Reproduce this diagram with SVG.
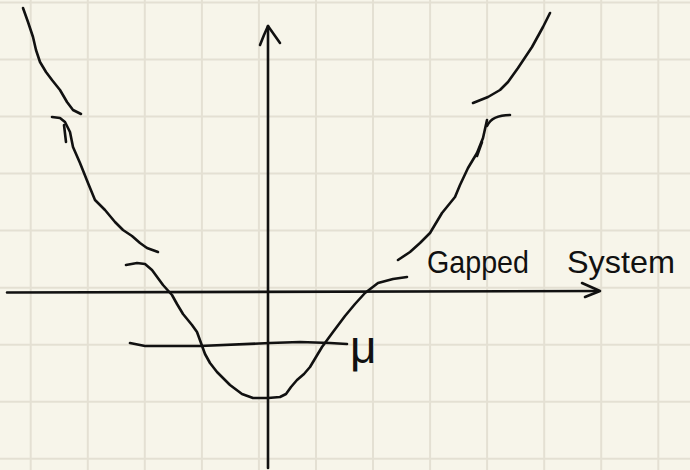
<svg xmlns="http://www.w3.org/2000/svg" width="690" height="470" viewBox="0 0 690 470">
<defs>
<style>
.grid line{stroke:#e4e0d3;stroke-width:2}
.ink{fill:none;stroke:#111;stroke-width:2.6;stroke-linecap:round;stroke-linejoin:round}
.lbl{font-family:"Liberation Sans",Arial,sans-serif;fill:#111}
</style>
</defs>
<rect width="690" height="470" fill="#f7f5ea"/>
<g class="grid">
<line x1="30.7" y1="0" x2="30.7" y2="470"/><line x1="87.8" y1="0" x2="87.8" y2="470"/><line x1="144.8" y1="0" x2="144.8" y2="470"/><line x1="201.9" y1="0" x2="201.9" y2="470"/><line x1="258.9" y1="0" x2="258.9" y2="470"/><line x1="316" y1="0" x2="316" y2="470"/><line x1="373" y1="0" x2="373" y2="470"/><line x1="430.1" y1="0" x2="430.1" y2="470"/><line x1="487.1" y1="0" x2="487.1" y2="470"/><line x1="544.2" y1="0" x2="544.2" y2="470"/><line x1="601.2" y1="0" x2="601.2" y2="470"/><line x1="658.3" y1="0" x2="658.3" y2="470"/>
<line x1="0" y1="2.5" x2="690" y2="2.5"/><line x1="0" y1="59.5" x2="690" y2="59.5"/><line x1="0" y1="116.5" x2="690" y2="116.5"/><line x1="0" y1="173.5" x2="690" y2="173.5"/><line x1="0" y1="230.5" x2="690" y2="230.5"/><line x1="0" y1="287.8" x2="690" y2="287.8"/><line x1="0" y1="344.8" x2="690" y2="344.8"/><line x1="0" y1="401.8" x2="690" y2="401.8"/><line x1="0" y1="458.8" x2="690" y2="458.8"/>
</g>
<g id="axes" class="ink">
<path d="M268,468 L268,26"/>
<path d="M260,45 L264,35 L268,26 L280,43"/>
<path d="M7,292.5 L598,291"/>
<path d="M582,283 L600,291 L585,297"/>
</g>
<g id="band-curves" class="ink">
<path d="M23,8 L28,22 L33,37 L36,50 L40,62 L46,72 L52,80 L60,90 L67,102 L73,110 L81,114"/>
<path d="M52,117 L60,118 L65,122 L70,132 L73,147 L80,163 L88,183 L95,200 L105,210 L115,222 L123,230 L132,236 L140,243 L147,248 L158,252"/>
<path d="M64,125 L66,142"/>
<path d="M126,265 L137,263 L145,264 L152,270 L163,285 L172,295 L177,304 L183,314 L192,325 L197,332 L201,343 L205,354 L210,363 L217,372 L230,385 L242,394 L253,398 L268,398 L280,397 L286,394 L291,387 L297,380 L304,374 L310,367 L316,357 L322,347 L333,332 L345,316 L355,304 L365,293 L378,283 L393,279 L407,277"/>
<path d="M398,260 L410,252 L420,243 L430,233 L442,213 L455,197 L460,185 L468,168 L477,153 L483,138 L487,120"/>
<path d="M477,156 L482,142"/>
<path d="M487,126 Q492,115 510,115"/>
<path d="M473,103 L488,97 L500,90 L508,82 L518,68 L532,47 L543,27 L550,13"/>
<path d="M130,343 L145,346 L200,346 L270,343 L300,342 L330,343 L347,344"/>
</g>
<g id="labels">
<text class="lbl" x="350" y="363" font-size="46">μ</text>
<text class="lbl" y="273" font-size="32"><tspan x="427" textLength="102" lengthAdjust="spacingAndGlyphs">Gapped</tspan><tspan x="567" textLength="108" lengthAdjust="spacingAndGlyphs">System</tspan></text>
</g>
</svg>
